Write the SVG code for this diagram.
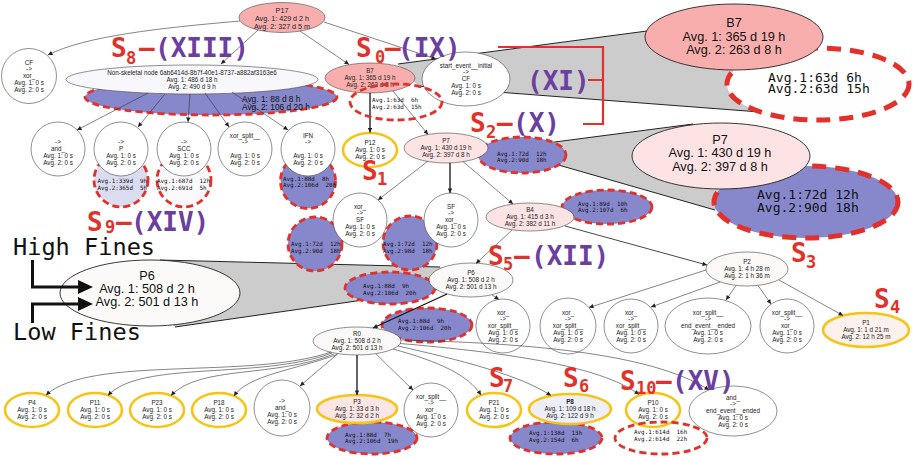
<svg xmlns="http://www.w3.org/2000/svg" width="915" height="458" viewBox="0 0 915 458">
<defs>
<marker id="ah" viewBox="0 0 10 10" refX="10" refY="5" markerWidth="5.5" markerHeight="4.5" markerUnits="userSpaceOnUse" orient="auto"><path d="M0,0L10,5L0,10z" fill="#222"/></marker>
<style>
.n{stroke:#444;stroke-width:0.6}
.y{stroke:#f6c417;stroke-width:2.6}
.B{stroke:#222;stroke-width:0.9}
.t{font-family:"Liberation Sans",Arial,sans-serif;font-size:6.3px;text-anchor:middle;fill:#222}
.m{font-family:"DejaVu Sans Mono",monospace;font-size:5.9px;fill:#111}
.T{font-family:"Liberation Sans",Arial,sans-serif;font-size:12.7px;text-anchor:middle;fill:#111}
.M{font-family:"DejaVu Sans Mono",monospace;font-size:13px;fill:#111}
.S{font-family:"Liberation Sans",Arial,sans-serif;font-size:8.4px;fill:#111}
.L{font-family:"DejaVu Sans Mono",monospace;font-weight:bold;font-size:26px}
.F{font-family:"DejaVu Sans Mono",monospace;font-size:23.6px;fill:#111}
.r{fill:#e2302a}
.p{fill:#6b3fa0}
.sb{font-size:17px}
.dr{stroke:#e2302a;stroke-width:2.8;stroke-dasharray:7 4}
.DR{stroke:#e2302a;stroke-width:5;stroke-dasharray:14 9}
.bl{fill:#8787cc}
.e{fill:none;stroke:#333;stroke-width:0.6;marker-end:url(#ah)}
.k{stroke-width:1.3;stroke:#111}
.g{fill:#cccccc}
.gl{stroke:#222;stroke-width:1;fill:none}
</style>
</defs>
<rect width="915" height="458" fill="#fff"/>

<g id="funnels">
<polygon class="g" points="398,64 647,31 734,37 818,84 760,112 418,86"/>
<path class="gl" d="M398 64L647 31M418 86L760 112"/>
<polygon class="g" points="547,143 693,124 721,156 806,202 715,210 555,164"/>
<path class="gl" d="M547 143L693 124M555 164L715 210"/>
<polygon class="g" points="160,260 440,267 471,280 440,289 175,327 150,293"/>
<path class="gl" d="M160 260L440 267M175 327L440 289"/>
</g>

<g id="annotations">
<ellipse class="bl dr" cx="211" cy="97" rx="126" ry="18"/>
<ellipse class="bl dr" cx="522" cy="155" rx="44" ry="18"/>
<circle class="dr" fill="#dcdcf1" cx="121" cy="180" r="27"/>
<circle class="dr" fill="#f9f9fc" cx="184" cy="180" r="27"/>
<circle class="bl dr" cx="308" cy="181" r="27.5"/>
<circle class="bl dr" cx="315" cy="244" r="27"/>
<circle class="bl dr" cx="410" cy="243" r="27"/>
<ellipse class="bl dr" cx="390" cy="288" rx="45" ry="16"/>
<ellipse class="bl dr" cx="427" cy="325" rx="45" ry="17"/>
<ellipse class="bl dr" cx="607" cy="207" rx="45" ry="17"/>
<ellipse class="bl dr" cx="372" cy="438" rx="45" ry="16"/>
<ellipse class="bl dr" cx="556" cy="438" rx="46" ry="16"/>
<ellipse class="DR" fill="#fefefe" cx="818" cy="84" rx="91" ry="36"/>
<ellipse class="bl DR" cx="806" cy="202" rx="92" ry="36"/>
</g>

<g id="nodes">
<g id="P17"><ellipse class="n" fill="#f9aeae" cx="282" cy="17.5" rx="43" ry="15"/><text class="t" style="font-size:7.2px"><tspan x="282" y="12.5">P17</tspan><tspan x="282" y="20.5">Avg. 1: 429 d 2 h</tspan><tspan x="282" y="28.5">Avg. 2: 327 d 5 m</tspan></text></g>
<g id="nonskel"><ellipse class="n" fill="#f8f8fc" cx="192" cy="79.5" rx="126" ry="14.5"/><text class="t"><tspan x="192" y="74.7">Non-skeletal node 6ab6414d-8b7f-40e1-8737-a882af3163e6</tspan><tspan x="192" y="81.7">Avg. 1: 486 d 18 h</tspan><tspan x="192" y="88.7">Avg. 2: 490 d 9 h</tspan></text></g>
<g id="CF_xor"><circle class="n" fill="#fff" cx="29" cy="76" r="27.5"/><text class="t"><tspan x="29" y="64.6">CF</tspan><tspan x="29" y="71.4">-&gt;</tspan><tspan x="29" y="78.2">xor_</tspan><tspan x="29" y="85">Avg. 1: 0 s</tspan><tspan x="29" y="91.8">Avg. 2: 0 s</tspan></text></g>
<g id="B7"><ellipse class="n" fill="#f9aeae" cx="370" cy="78" rx="45" ry="15"/><text class="t"><tspan x="370" y="73">B7</tspan><tspan x="370" y="80.2">Avg. 1: 365 d 19 h</tspan><tspan x="370" y="87.4">Avg. 2: 263 d 8 h</tspan></text></g>
<g id="start_CF"><ellipse class="n" fill="#fff" cx="466" cy="79" rx="44" ry="27"/><text class="t"><tspan x="466" y="67.6">start_event__initial</tspan><tspan x="466" y="74.4">-&gt;</tspan><tspan x="466" y="81.2">CF</tspan><tspan x="466" y="88">Avg. 1: 0 s</tspan><tspan x="466" y="94.8">Avg. 2: 0 s</tspan></text></g>
<g id="to_and"><circle class="n" fill="#fff" cx="58" cy="149" r="27"/><text class="t"><tspan x="58" y="144.4">-&gt;</tspan><tspan x="58" y="151.2">and_</tspan><tspan x="58" y="158">Avg. 1: 0 s</tspan><tspan x="58" y="164.8">Avg. 2: 0 s</tspan></text></g>
<g id="to_P"><circle class="n" fill="#fff" cx="121" cy="149" r="27"/><text class="t"><tspan x="121" y="144.4">-&gt;</tspan><tspan x="121" y="151.2">P</tspan><tspan x="121" y="158">Avg. 1: 0 s</tspan><tspan x="121" y="164.8">Avg. 2: 0 s</tspan></text></g>
<g id="to_SCC"><circle class="n" fill="#fff" cx="184" cy="149" r="27"/><text class="t"><tspan x="184" y="144.4">-&gt;</tspan><tspan x="184" y="151.2">SCC</tspan><tspan x="184" y="158">Avg. 1: 0 s</tspan><tspan x="184" y="164.8">Avg. 2: 0 s</tspan></text></g>
<g id="xorsplit_to"><circle class="n" fill="#fff" cx="245" cy="149" r="27"/><text class="t"><tspan x="245" y="137.6">xor_split__</tspan><tspan x="245" y="144.4">-&gt;</tspan><tspan x="245" y="158">Avg. 1: 0 s</tspan><tspan x="245" y="164.8">Avg. 2: 0 s</tspan></text></g>
<g id="IFN_to"><circle class="n" fill="#fff" cx="308" cy="149" r="27"/><text class="t"><tspan x="308" y="137.6">IFN</tspan><tspan x="308" y="144.4">-&gt;</tspan><tspan x="308" y="158">Avg. 1: 0 s</tspan><tspan x="308" y="164.8">Avg. 2: 0 s</tspan></text></g>
<g id="P12"><ellipse class="y" fill="#fff" cx="370" cy="150" rx="27" ry="17"/><text class="t"><tspan x="370" y="145">P12</tspan><tspan x="370" y="152.2">Avg. 1: 0 s</tspan><tspan x="370" y="159.4">Avg. 2: 0 s</tspan></text></g>
<g id="P7"><ellipse class="n" fill="#fde3e3" cx="446" cy="148" rx="42" ry="15"/><text class="t"><tspan x="446" y="143">P7</tspan><tspan x="446" y="150.2">Avg. 1: 430 d 19 h</tspan><tspan x="446" y="157.4">Avg. 2: 397 d 8 h</tspan></text></g>
<g id="xor_SF"><circle class="n" fill="#fff" cx="360" cy="220" r="27"/><text class="t"><tspan x="360" y="208.6">xor_</tspan><tspan x="360" y="215.4">-&gt;</tspan><tspan x="360" y="222.2">SF</tspan><tspan x="360" y="229">Avg. 1: 0 s</tspan><tspan x="360" y="235.8">Avg. 2: 0 s</tspan></text></g>
<g id="SF_xor"><circle class="n" fill="#fff" cx="451" cy="220" r="27"/><text class="t"><tspan x="451" y="208.6">SF</tspan><tspan x="451" y="215.4">-&gt;</tspan><tspan x="451" y="222.2">xor_</tspan><tspan x="451" y="229">Avg. 1: 0 s</tspan><tspan x="451" y="235.8">Avg. 2: 0 s</tspan></text></g>
<g id="B4"><ellipse class="n" fill="#fde3e3" cx="530" cy="217" rx="44" ry="14"/><text class="t"><tspan x="530" y="212">B4</tspan><tspan x="530" y="219.2">Avg. 1: 415 d 3 h</tspan><tspan x="530" y="226.4">Avg. 2: 382 d 11 h</tspan></text></g>
<g id="P6"><ellipse class="n" fill="#fbf9f7" cx="471" cy="280" rx="42" ry="17"/><text class="t"><tspan x="471" y="275">P6</tspan><tspan x="471" y="282.2">Avg. 1: 508 d 2 h</tspan><tspan x="471" y="289.4">Avg. 2: 501 d 13 h</tspan></text></g>
<g id="P2"><ellipse class="n" fill="#fcf8f6" cx="747" cy="269" rx="41" ry="17"/><text class="t"><tspan x="747" y="264">P2</tspan><tspan x="747" y="271.2">Avg. 1: 4 h 28 m</tspan><tspan x="747" y="278.4">Avg. 2: 1 h 36 m</tspan></text></g>
<g id="xor_xs1"><circle class="n" fill="#fff" cx="503" cy="326" r="27"/><text class="t"><tspan x="503" y="314.6">xor_</tspan><tspan x="503" y="321.4">-&gt;</tspan><tspan x="503" y="328.2">xor_split__</tspan><tspan x="503" y="335">Avg. 1: 0 s</tspan><tspan x="503" y="341.8">Avg. 2: 0 s</tspan></text></g>
<g id="xor_xs2"><circle class="n" fill="#fff" cx="568" cy="326" r="28"/><text class="t"><tspan x="568" y="314.6">xor_</tspan><tspan x="568" y="321.4">-&gt;</tspan><tspan x="568" y="328.2">xor_split__</tspan><tspan x="568" y="335">Avg. 1: 0 s</tspan><tspan x="568" y="341.8">Avg. 2: 0 s</tspan></text></g>
<g id="xor_xs3"><circle class="n" fill="#fff" cx="631" cy="326" r="27"/><text class="t"><tspan x="631" y="314.6">xor_</tspan><tspan x="631" y="321.4">-&gt;</tspan><tspan x="631" y="328.2">xor_split__</tspan><tspan x="631" y="335">Avg. 1: 0 s</tspan><tspan x="631" y="341.8">Avg. 2: 0 s</tspan></text></g>
<g id="xs_end"><ellipse class="n" fill="#fff" cx="708" cy="326" rx="43" ry="28"/><text class="t"><tspan x="708" y="314.6">xor_split__</tspan><tspan x="708" y="321.4">-&gt;</tspan><tspan x="708" y="328.2">end_event__ended</tspan><tspan x="708" y="335">Avg. 1: 0 s</tspan><tspan x="708" y="341.8">Avg. 2: 0 s</tspan></text></g>
<g id="xs_xor"><circle class="n" fill="#fff" cx="787" cy="326" r="27"/><text class="t"><tspan x="787" y="314.6">xor_split__</tspan><tspan x="787" y="321.4">-&gt;</tspan><tspan x="787" y="328.2">xor_</tspan><tspan x="787" y="335">Avg. 1: 0 s</tspan><tspan x="787" y="341.8">Avg. 2: 0 s</tspan></text></g>
<g id="P1"><ellipse class="y" fill="#fdf1ee" cx="866" cy="330" rx="43" ry="17"/><text class="t"><tspan x="866" y="325">P1</tspan><tspan x="866" y="332.2">Avg. 1: 1 d 21 m</tspan><tspan x="866" y="339.4">Avg. 2: 12 h 25 m</tspan></text></g>
<g id="R0"><ellipse class="n" fill="#fbf9f7" cx="357" cy="341" rx="44" ry="14"/><text class="t"><tspan x="357" y="336">R0</tspan><tspan x="357" y="343.2">Avg. 1: 508 d 2 h</tspan><tspan x="357" y="350.4">Avg. 2: 501 d 13 h</tspan></text></g>
<g id="P4"><ellipse class="y" fill="#fff" cx="32" cy="410" rx="27" ry="17"/><text class="t"><tspan x="32" y="405">P4</tspan><tspan x="32" y="412.2">Avg. 1: 0 s</tspan><tspan x="32" y="419.4">Avg. 2: 0 s</tspan></text></g>
<g id="P11"><ellipse class="y" fill="#fff" cx="95" cy="410" rx="27" ry="17"/><text class="t"><tspan x="95" y="405">P11</tspan><tspan x="95" y="412.2">Avg. 1: 0 s</tspan><tspan x="95" y="419.4">Avg. 2: 0 s</tspan></text></g>
<g id="P23"><ellipse class="y" fill="#fff" cx="157" cy="410" rx="27" ry="17"/><text class="t"><tspan x="157" y="405">P23</tspan><tspan x="157" y="412.2">Avg. 1: 0 s</tspan><tspan x="157" y="419.4">Avg. 2: 0 s</tspan></text></g>
<g id="P18"><ellipse class="y" fill="#fff" cx="219" cy="410" rx="27" ry="17"/><text class="t"><tspan x="219" y="405">P18</tspan><tspan x="219" y="412.2">Avg. 1: 0 s</tspan><tspan x="219" y="419.4">Avg. 2: 0 s</tspan></text></g>
<g id="to_and2"><circle class="n" fill="#fff" cx="282" cy="408" r="28"/><text class="t"><tspan x="282" y="403.4">-&gt;</tspan><tspan x="282" y="410.2">and_</tspan><tspan x="282" y="417">Avg. 1: 0 s</tspan><tspan x="282" y="423.8">Avg. 2: 0 s</tspan></text></g>
<g id="P3"><ellipse class="y" fill="#fce5e5" cx="357" cy="409" rx="40" ry="14"/><text class="t"><tspan x="357" y="404">P3</tspan><tspan x="357" y="411.2">Avg. 1: 33 d 3 h</tspan><tspan x="357" y="418.4">Avg. 2: 32 d 2 h</tspan></text></g>
<g id="xs_xor2"><circle class="n" fill="#fff" cx="431" cy="410" r="27"/><text class="t"><tspan x="431" y="398.6">xor_split__</tspan><tspan x="431" y="405.4">-&gt;</tspan><tspan x="431" y="412.2">xor_</tspan><tspan x="431" y="419">Avg. 1: 0 s</tspan><tspan x="431" y="425.8">Avg. 2: 0 s</tspan></text></g>
<g id="P21"><ellipse class="y" fill="#fff" cx="494" cy="410" rx="27" ry="17"/><text class="t"><tspan x="494" y="405">P21</tspan><tspan x="494" y="412.2">Avg. 1: 0 s</tspan><tspan x="494" y="419.4">Avg. 2: 0 s</tspan></text></g>
<g id="P8"><ellipse class="y" fill="#eeeef8" cx="570" cy="409" rx="41" ry="15"/><text class="t"><tspan x="570" y="404" font-weight="bold">P8</tspan><tspan x="570" y="411.2">Avg. 1: 109 d 18 h</tspan><tspan x="570" y="418.4">Avg. 2: 122 d 9 h</tspan></text></g>
<g id="P10"><ellipse class="y" fill="#fff" cx="653" cy="410" rx="27" ry="17"/><text class="t"><tspan x="653" y="405">P10</tspan><tspan x="653" y="412.2">Avg. 1: 0 s</tspan><tspan x="653" y="419.4">Avg. 2: 0 s</tspan></text></g>
<g id="and_end"><ellipse class="n" fill="#fff" cx="733" cy="411" rx="44" ry="25"/><text class="t"><tspan x="733" y="399.6">and_</tspan><tspan x="733" y="406.4">-&gt;</tspan><tspan x="733" y="413.2">end_event__ended</tspan><tspan x="733" y="420">Avg. 1: 0 s</tspan><tspan x="733" y="426.8">Avg. 2: 0 s</tspan></text></g>
<g id="B7_big"><ellipse class="B" fill="#f9aeae" cx="734" cy="37" rx="89" ry="33"/><text class="T"><tspan x="734" y="27">B7</tspan><tspan x="734" y="40.5">Avg. 1: 365 d 19 h</tspan><tspan x="734" y="54">Avg. 2: 263 d 8 h</tspan></text></g>
<g id="P7_big"><ellipse class="B" fill="#fde3e3" cx="721" cy="156" rx="89" ry="33"/><text class="T"><tspan x="720" y="143.5">P7</tspan><tspan x="720" y="157">Avg. 1: 430 d 19 h</tspan><tspan x="720" y="170.5">Avg. 2: 397 d 8 h</tspan></text></g>
<g id="P6_big"><ellipse class="B" fill="#fbfaf8" cx="150" cy="293" rx="90" ry="33"/><text class="T"><tspan x="147" y="279.5">P6</tspan><tspan x="147" y="292.5">Avg. 1: 508 d 2 h</tspan><tspan x="147" y="306">Avg. 2: 501 d 13 h</tspan></text></g>
</g>

<g id="connectors">
<path class="e" d="M240 21C160 28 85 36 48 55"/>
<path class="e" d="M258 30L221 64"/>
<path class="e" d="M300 31L349 64.5"/>
<path class="e" d="M324 22L436 59"/>
<path class="e" d="M148 93L77 130"/>
<path class="e" d="M165 94L138 127"/>
<path class="e" d="M190 94L188 122"/>
<path class="e" d="M205 93L229 127"/>
<path class="e" d="M232 92L288 130"/>
<path class="e k" d="M370 93L370 132.5"/>
<path class="e" d="M393 91L428 134.5"/>
<path class="e" d="M428 161L378 200"/>
<path class="e k" d="M450 163L450 193"/>
<path class="e" d="M463 161.5L513 204"/>
<path class="e" d="M512 230L476 263.5"/>
<path class="e" style="stroke-width:0.9" d="M565 226L707 265"/>
<path class="e k" d="M447 294L373 328"/>
<path class="e" d="M492 295L499 299.5"/>
<path class="e" d="M706 270L589 307.5"/>
<path class="e" d="M720 282L651 307"/>
<path class="e" d="M736 285.5L726 300"/>
<path class="e" d="M758 285.5L771 304"/>
<path class="e" d="M779 280L843 315.5"/>
<path class="e k" d="M357 355L357 395"/>
<path class="e" d="M338 353.5L300 386"/>
<path class="e" d="M376 354L413 390"/>
<path class="e" d="M331 352C250 380 90 355 46 395"/>
<path class="e" d="M332 353C260 380 140 360 108 395.5"/>
<path class="e" d="M334 354C275 378 200 365 171 395.5"/>
<path class="e" d="M337 354.5C295 370 248 375 234 396"/>
<path class="e" d="M393 349C440 362 468 375 481 395"/>
<path class="e" d="M398 346C460 360 520 375 551 395.5"/>
<path class="e" d="M400 343.5C500 352 600 365 639 394.5"/>
<path class="e" d="M401 340C520 343 650 352 709 390"/>
</g>

<g id="dashed_open">
<ellipse class="dr" fill="none" cx="396" cy="102" rx="46" ry="18"/>
<ellipse class="dr" fill="none" cx="661" cy="438" rx="46" ry="16"/>
</g>

<g id="annotation_text">
<text class="S"><tspan x="242" y="102">Avg. 1: 88 d 8 h</tspan><tspan x="242" y="110">Avg. 2: 106 d 20 h</tspan></text>
<text class="m"><tspan x="372" y="101.8">Avg.1:63d&#160; 6h</tspan><tspan x="372" y="108.5">Avg.2:63d&#160; 15h</tspan></text>
<text class="m"><tspan x="497" y="155.5">Avg.1:72d&#160; 12h</tspan><tspan x="497" y="161.8">Avg.2:90d&#160; 18h</tspan></text>
<text class="m"><tspan x="97.5" y="182.8">Avg.1:339d&#160; 9h</tspan><tspan x="97.5" y="189.5">Avg.2:365d&#160; 5h</tspan></text>
<text class="m"><tspan x="157" y="182.8">Avg.1:687d&#160; 12h</tspan><tspan x="157" y="189.5">Avg.2:691d&#160; 5h</tspan></text>
<text class="m"><tspan x="283" y="180.5">Avg.1:88d&#160; 8h</tspan><tspan x="283" y="186.5">Avg.2:106d&#160; 20h</tspan></text>
<text class="m"><tspan x="291" y="246">Avg.1:72d&#160; 12h</tspan><tspan x="291" y="252.5">Avg.2:90d&#160; 18h</tspan></text>
<text class="m"><tspan x="383" y="246">Avg.1:72d&#160; 12h</tspan><tspan x="383" y="252.5">Avg.2:98d&#160; 18h</tspan></text>
<text class="m"><tspan x="363" y="288">Avg.1:88d&#160; 9h</tspan><tspan x="363" y="294.5">Avg.2:106d&#160; 20h</tspan></text>
<text class="m"><tspan x="398" y="323">Avg.1:88d&#160; 9h</tspan><tspan x="398" y="329.7">Avg.2:106d&#160; 20h</tspan></text>
<text class="m"><tspan x="578" y="205.5">Avg.1:89d&#160; 10h</tspan><tspan x="578" y="212">Avg.2:107d&#160; 6h</tspan></text>
<text class="m"><tspan x="345" y="436.5">Avg.1:88d&#160; 7h</tspan><tspan x="345" y="442.5">Avg.2:106d&#160; 19h</tspan></text>
<text class="m"><tspan x="529" y="435">Avg.1:138d&#160; 13h</tspan><tspan x="529" y="441.5">Avg.2:154d&#160; 6h</tspan></text>
<text class="m"><tspan x="634" y="434">Avg.1:614d&#160; 16h</tspan><tspan x="634" y="440.5">Avg.2:614d&#160; 22h</tspan></text>
<text class="M"><tspan x="768" y="81.5">Avg.1:63d 6h</tspan><tspan x="768" y="93">Avg.2:63d 15h</tspan></text>
<text class="M"><tspan x="757" y="199">Avg.1:72d 12h</tspan><tspan x="757" y="212">Avg.2:90d 18h</tspan></text>
</g>

<g id="labels">
<text class="L"><tspan class="r" x="111" y="57">S</tspan><tspan class="r sb" x="126" y="64">8</tspan><tspan class="r" x="139" y="57">–</tspan><tspan class="p" x="155" y="57">(XIII)</tspan></text>
<text class="L"><tspan class="r" x="356" y="57">S</tspan><tspan class="r sb" x="375" y="63">0</tspan><tspan class="r" x="385" y="57">–</tspan><tspan class="p" x="398" y="57">(IX)</tspan></text>
<text class="L"><tspan class="p" x="527" y="90">(XI)</tspan></text>
<path d="M498 47H603V124H583M588 80H603" fill="none" stroke="#e2302a" stroke-width="2.2"/>
<text class="L"><tspan class="r" x="470" y="132">S</tspan><tspan class="r sb" x="486" y="138">2</tspan><tspan class="r" x="497" y="132">–</tspan><tspan class="p" x="513" y="132">(X)</tspan></text>
<text class="L"><tspan class="r" x="362" y="180">S</tspan><tspan class="r sb" x="377" y="185">1</tspan></text>
<text class="L"><tspan class="r" x="87" y="231">S</tspan><tspan class="r sb" x="105" y="233">9</tspan><tspan class="r" x="116" y="231">–</tspan><tspan class="p" x="131" y="231">(XIV)</tspan></text>
<text class="L"><tspan class="r" x="488" y="265">S</tspan><tspan class="r sb" x="503" y="270">5</tspan><tspan class="r" x="514" y="265">–</tspan><tspan class="p" x="531" y="265">(XII)</tspan></text>
<text class="L"><tspan class="r" x="791" y="262">S</tspan><tspan class="r sb" x="806" y="268">3</tspan></text>
<text class="L"><tspan class="r" x="874" y="308">S</tspan><tspan class="r sb" x="890" y="313">4</tspan></text>
<text class="L"><tspan class="r" x="489" y="387">S</tspan><tspan class="r sb" x="503" y="392">7</tspan></text>
<text class="L"><tspan class="r" x="563" y="387">S</tspan><tspan class="r sb" x="579" y="392">6</tspan></text>
<text class="L"><tspan class="r" x="620" y="390">S</tspan><tspan class="r sb" x="636" y="394">10</tspan><tspan class="r" x="656" y="390">–</tspan><tspan class="p" x="672" y="390">(XV)</tspan></text>
<text class="F" x="13" y="255">High Fines</text>
<text class="F" x="13" y="340">Low Fines</text>
<path d="M32.5 260V287H80M32.5 323V304H80" fill="none" stroke="#111" stroke-width="3"/>
<polygon points="78,280 93,287 78,294" fill="#111"/>
<polygon points="78,297 93,304 78,311" fill="#111"/>
</g>
</svg>
